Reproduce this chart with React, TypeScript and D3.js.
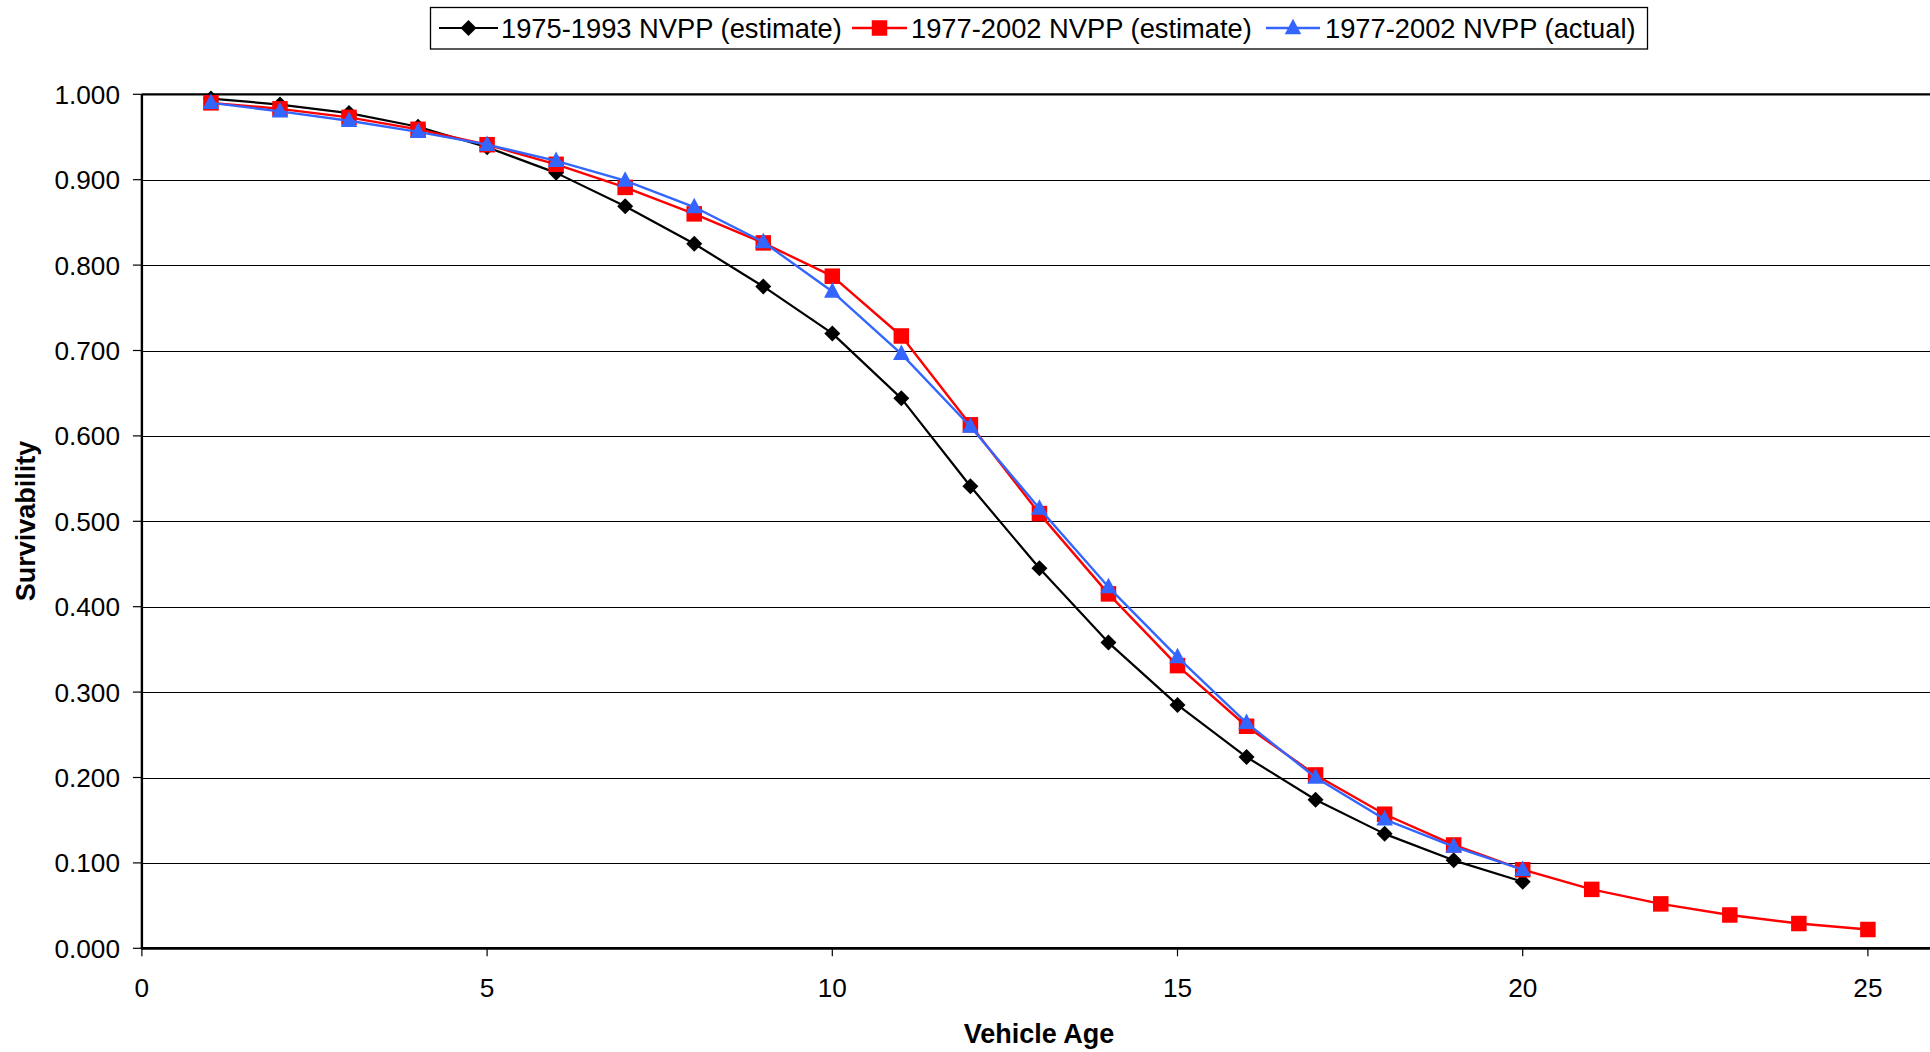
import React, { useEffect } from "react";
import * as d3 from "d3";

// ---- Data ----
const agesBlack = [1, 2, 3, 4, 5, 6, 7, 8, 9, 10, 11, 12, 13, 14, 15, 16, 17, 18, 19, 20];
const black1975 = [0.995, 0.988, 0.978, 0.962, 0.938, 0.908, 0.869, 0.825, 0.775, 0.720, 0.644, 0.541, 0.445, 0.358, 0.285, 0.224, 0.174, 0.134, 0.103, 0.078];

const agesRed = [1, 2, 3, 4, 5, 6, 7, 8, 9, 10, 11, 12, 13, 14, 15, 16, 17, 18, 19, 20, 21, 22, 23, 24, 25];
const red1977Est = [0.990, 0.983, 0.973, 0.959, 0.941, 0.918, 0.891, 0.860, 0.826, 0.787, 0.717, 0.613, 0.509, 0.415, 0.331, 0.260, 0.203, 0.157, 0.121, 0.092, 0.069, 0.052, 0.039, 0.029, 0.022];

const agesBlue = [1, 2, 3, 4, 5, 6, 7, 8, 9, 10, 11, 12, 13, 14, 15, 16, 17, 18, 19, 20];
const blue1977Act = [0.990, 0.980, 0.969, 0.956, 0.941, 0.922, 0.899, 0.868, 0.827, 0.769, 0.696, 0.611, 0.515, 0.423, 0.341, 0.264, 0.200, 0.151, 0.119, 0.092];

const seriesNames = ["1975-1993 NVPP (estimate)", "1977-2002 NVPP (estimate)", "1977-2002 NVPP (actual)"];
const xTicks = [0, 5, 10, 15, 20, 25];
const yTicks = [0, 0.1, 0.2, 0.3, 0.4, 0.5, 0.6, 0.7, 0.8, 0.9, 1.0];

const W = 1930;
const H = 1052;
const FONT = "'Liberation Sans', Arial, sans-serif";

const left = 141.9;
const unit = 69.04;
const x = d3.scaleLinear().domain([0, 26]).range([left, left + 26 * unit]);
const y = d3.scaleLinear().domain([0, 1]).range([948.3, 94.3]);

type Kind = "diamond" | "square" | "triangle";

function Marker({ kind, cx, cy, color }: { kind: Kind; cx: number; cy: number; color: string }) {
  if (kind === "diamond") {
    const r = 8;
    return <path d={`M${cx},${cy - r}L${cx + r},${cy}L${cx},${cy + r}L${cx - r},${cy}Z`} fill={color} />;
  }
  if (kind === "square") {
    const s = 15.5;
    return <rect x={cx - s / 2} y={cy - s / 2} width={s} height={s} fill={color} />;
  }
  const w = 16.5, h = 15.5;
  return <path d={`M${cx},${cy - h * 0.6}L${cx + w / 2},${cy + h * 0.4}L${cx - w / 2},${cy + h * 0.4}Z`} fill={color} />;
}

export default function App() {
  useEffect(() => {
    document.body.style.margin = "0";
    document.body.style.overflow = "hidden";
  }, []);

  const line = d3
    .line<[number, number]>()
    .x((d) => x(d[0]))
    .y((d) => y(d[1]));

  const series = [
    { name: seriesNames[0], ages: agesBlack, vals: black1975, color: "#000000", kind: "diamond" as Kind, sw: 2.2 },
    { name: seriesNames[1], ages: agesRed, vals: red1977Est, color: "#FF0000", kind: "square" as Kind, sw: 2.4 },
    { name: seriesNames[2], ages: agesBlue, vals: blue1977Act, color: "#3366FF", kind: "triangle" as Kind, sw: 2.4 },
  ];

  const legendItems = [
    { x0: 439, x1: 498, tx: 501 },
    { x0: 852, x1: 907, tx: 911 },
    { x0: 1266, x1: 1320, tx: 1325 },
  ];
  const legendY = 28;

  return (
    <svg width={W} height={H} style={{ position: "absolute", left: 0, top: 0, background: "#fff" }} fontFamily={FONT}>
      <rect x={0} y={0} width={W} height={H} fill="#fff" />
      {/* gridlines */}
      {yTicks.slice(1, -1).map((t) => (
        <line key={t} x1={x(0)} x2={W} y1={Math.round(y(t)) + 0.5} y2={Math.round(y(t)) + 0.5} stroke="#000" strokeWidth={1} />
      ))}
      {/* top border */}
      <line x1={x(0)} x2={W} y1={y(1)} y2={y(1)} stroke="#000" strokeWidth={2.2} />
      {/* y axis */}
      <line x1={x(0)} x2={x(0)} y1={y(1)} y2={y(0)} stroke="#000" strokeWidth={2.4} />
      {yTicks.map((t) => (
        <g key={t}>
          <line x1={x(0) - 9} x2={x(0)} y1={y(t)} y2={y(t)} stroke="#000" strokeWidth={1.2} />
          <text x={120} y={y(t)} dy="0.36em" textAnchor="end" fontSize={26.2} fill="#000">
            {d3.format(".3f")(t)}
          </text>
        </g>
      ))}
      {/* x axis */}
      <line x1={x(0) - 1} x2={W} y1={y(0)} y2={y(0)} stroke="#000" strokeWidth={2.8} />
      {xTicks.map((t) => (
        <g key={t}>
          <line x1={x(t)} x2={x(t)} y1={y(0)} y2={y(0) + 8} stroke="#000" strokeWidth={1.2} />
          <text x={x(t)} y={997} textAnchor="middle" fontSize={26.2} fill="#000">
            {t}
          </text>
        </g>
      ))}
      {/* axis titles */}
      <text x={1039} y={1042.5} textAnchor="middle" fontSize={27} fontWeight="bold" fill="#000">
        Vehicle Age
      </text>
      <text
        transform={`translate(34.5,521) rotate(-90)`}
        textAnchor="middle"
        fontSize={27}
        fontWeight="bold"
        fill="#000"
      >
        Survivability
      </text>
      {/* series */}
      {series.map((s) => {
        const pts: [number, number][] = s.ages.map((a, i) => [a, s.vals[i]]);
        return (
          <g key={s.name}>
            <path d={line(pts) || ""} fill="none" stroke={s.color} strokeWidth={s.sw} strokeLinejoin="round" />
            {pts.map((p, i) => (
              <Marker key={i} kind={s.kind} cx={x(p[0])} cy={y(p[1])} color={s.color} />
            ))}
          </g>
        );
      })}
      {/* legend */}
      <rect x={430.5} y={7.5} width={1217} height={41.5} fill="#fff" stroke="#000" strokeWidth={1.3} />
      {series.map((s, i) => {
        const li = legendItems[i];
        return (
          <g key={s.name}>
            <line x1={li.x0} x2={li.x1} y1={legendY} y2={legendY} stroke={s.color} strokeWidth={s.sw} />
            <Marker kind={s.kind} cx={(li.x0 + li.x1) / 2} cy={legendY} color={s.color} />
            <text x={li.tx} y={legendY} dy="0.36em" fontSize={27.3} fill="#000">
              {s.name}
            </text>
          </g>
        );
      })}
    </svg>
  );
}
